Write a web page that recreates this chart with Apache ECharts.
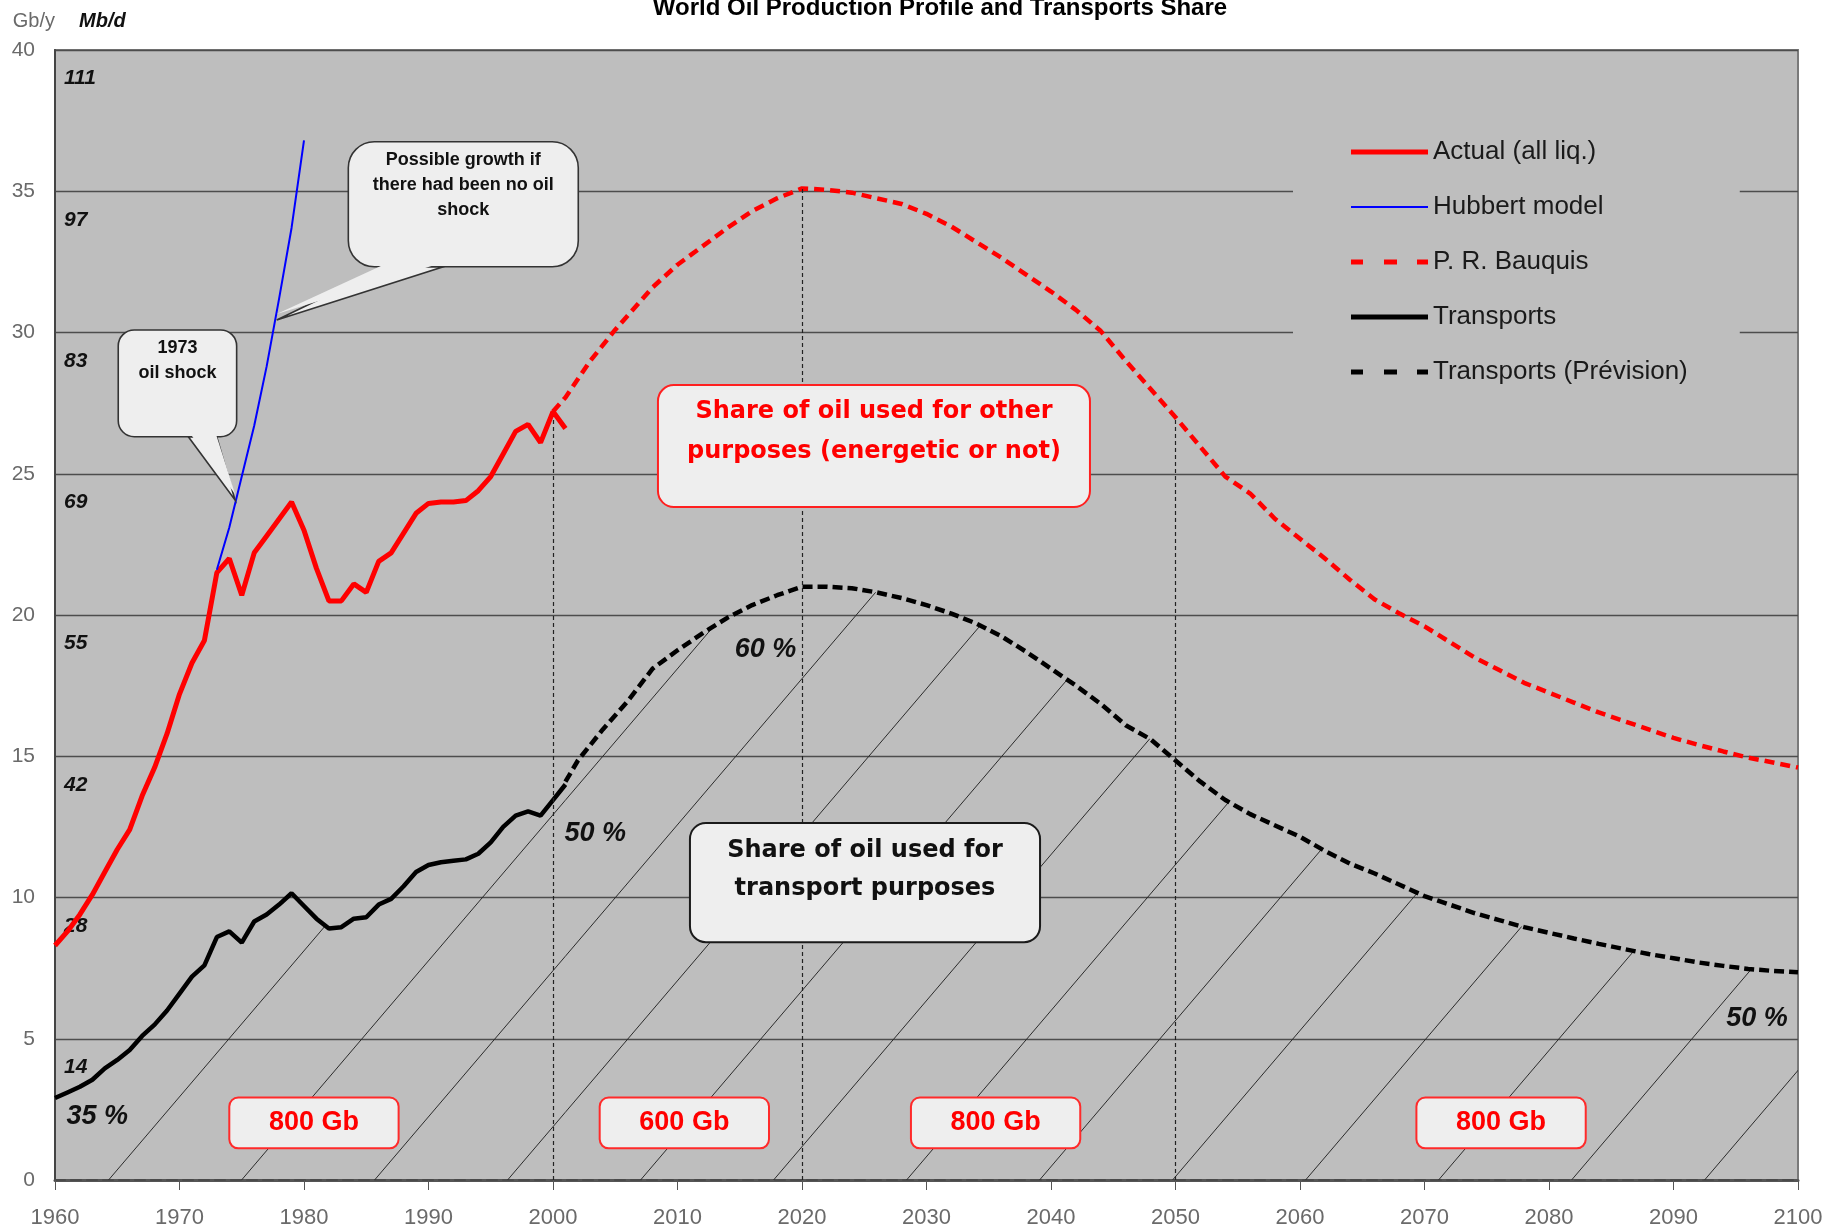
<!DOCTYPE html>
<html>
<head>
<meta charset="utf-8">
<script src="https://cdn.jsdelivr.net/npm/echarts@6/dist/echarts.min.js"></script>
<style>
html,body{margin:0;padding:0;background:#ffffff;}
#chart{width:1827px;height:1230px;}
</style>
</head>
<body>
<div id="chart"></div>
<script>
// ---------------- DATA ----------------
const actualYears = [1960,1961,1962,1963,1964,1965,1966,1967,1968,1969,
  1970,1971,1972,1973,1974,1975,1976,1977,1978,1979,
  1980,1981,1982,1983,1984,1985,1986,1987,1988,1989,
  1990,1991,1992,1993,1994,1995,1996,1997,1998,1999,2000,2001];
const actualValues = [8.3,8.8,9.4,10.1,10.9,11.7,12.4,13.6,14.6,15.8,
  17.2,18.3,19.1,21.5,22.0,20.7,22.2,22.8,23.4,24.0,
  23.0,21.65,20.5,20.5,21.1,20.8,21.9,22.2,22.9,23.6,
  23.95,24.0,24.0,24.05,24.4,24.9,25.7,26.5,26.75,26.1,27.2,26.6];

const hubbertYears = [1973,1974,1975,1976,1977,1978,1979,1980];
const hubbertValues = [21.6,23.1,24.9,26.7,28.8,31.2,33.7,36.8];

const bauquisYears = [2000,2001,2003,2005,2008,2010,2012,2014,2016,2018,
  2020,2022,2024,2026,2028,2030,2032,2034,2036,2038,
  2040,2042,2044,2046,2048,2050,2052,2054,2056,2058,
  2060,2062,2064,2066,2068,2070,2072,2074,2076,2078,
  2080,2082,2084,2086,2088,2090,2092,2094,2096,2098,2100];
const bauquisValues = [27.2,27.7,29.0,30.1,31.6,32.4,33.05,33.7,34.3,34.75,
  35.1,35.05,34.95,34.75,34.55,34.2,33.75,33.2,32.65,32.05,
  31.45,30.8,30.05,29.0,28.0,27.0,25.95,24.9,24.3,23.4,
  22.7,22.0,21.25,20.55,20.05,19.6,19.05,18.5,18.05,17.6,
  17.25,16.9,16.55,16.25,15.95,15.65,15.4,15.17,14.95,14.78,14.6];

const transportYears = actualYears;
const transportValues = [2.9,3.1,3.3,3.55,3.95,4.25,4.6,5.1,5.5,6.0,
  6.6,7.2,7.6,8.6,8.8,8.4,9.15,9.4,9.75,10.15,
  9.7,9.25,8.9,8.95,9.25,9.3,9.75,9.95,10.4,10.9,
  11.15,11.25,11.3,11.35,11.55,11.95,12.5,12.9,13.05,12.9,13.45,14.0];

const forecastYears = [2001,2002,2004,2006,2008,2010,2012,2014,2016,2018,
  2020,2022,2024,2026,2028,2030,2032,2034,2036,2038,
  2040,2042,2044,2046,2048,2050,2052,2054,2056,2058,
  2060,2062,2064,2066,2068,2070,2072,2074,2076,2078,
  2080,2082,2084,2086,2088,2090,2092,2094,2096,2098,2100];
const forecastValues = [14.1,14.85,15.95,16.95,18.1,18.75,19.35,19.9,20.35,20.7,
  21.0,21.0,20.95,20.8,20.6,20.35,20.05,19.7,19.25,18.7,
  18.1,17.5,16.85,16.1,15.6,14.85,14.1,13.45,12.95,12.55,
  12.15,11.65,11.2,10.85,10.45,10.05,9.75,9.45,9.2,8.95,
  8.75,8.55,8.36,8.18,8.0,7.85,7.7,7.58,7.47,7.4,7.35];

const seriesNames = ['Actual (all liq.)','Hubbert model','P. R. Bauquis','Transports','Transports (Prévision)'];
const mbdLabels = ['', '14', '28', '42', '55', '69', '83', '97', '111'];   // for 0,5,...,40 Gb/y
const dropYears = [2000, 2020, 2050];

const shareTexts = ['35 %', '50 %', '60 %', '50 %'];
const shareAt = [[1963.4, 2.24], [2003.4, 12.27], [2017.07, 18.77], [2096.7, 5.73]];
const volumeTexts = ['800 Gb', '600 Gb', '800 Gb', '800 Gb'];
const volumeCenters = [1980.8, 2010.55, 2035.55, 2076.15];

// ---------------- HELPERS ----------------
const zip = (xs, ys) => xs.map((x, i) => [x, ys[i]]);
function valueAt(year) {
  const i = bauquisYears.indexOf(year);
  return bauquisValues[i];
}
function makeHatch() {
  const W = 133, H = 156, c = 50.6;
  const cv = document.createElement('canvas');
  cv.width = W; cv.height = H;
  const g = cv.getContext('2d');
  g.strokeStyle = '#2b2b2b';
  g.lineWidth = 1;
  [c - W, c, c + W].forEach(cc => {
    g.beginPath(); g.moveTo(cc, 0); g.lineTo(cc - W, H); g.stroke();
  });
  return cv;
}
const hatch = {image: makeHatch(), repeat: 'repeat'};

// legend icons (solid / dashed strokes)
const ICON_SOLID_THICK = 'path://M0,0h77v5h-77z';
const ICON_SOLID_THIN = 'path://M0,0h77v2h-77z';
const ICON_DASHED = 'path://M0,0h12v5h-12zM33,0h13v5h-13zM66,0h11v5h-11z';
const legendIcons = [ICON_SOLID_THICK, ICON_SOLID_THIN, ICON_DASHED, ICON_SOLID_THICK, ICON_DASHED];

const FILL = '#eeeeee';
const notes = [
  {box: [2008.43, 28.14, 2043.13, 23.82], text: 'Share of oil used for other\npurposes (energetic or not)',
   color: '#ff0000', border: '#ff2020', bw: 2, r: 16, pad: 7, lh: 40,
   font: {fontSize: 24, fontWeight: 'bold', fontFamily: 'DejaVu Sans'}},
  {box: [2011.0, 12.64, 2039.12, 8.42], text: 'Share of oil used for\ntransport purposes',
   color: '#111111', border: '#1a1a1a', bw: 2, r: 16, pad: 9, lh: 38,
   font: {fontSize: 24, fontWeight: 'bold', fontFamily: 'DejaVu Sans'}},
  {box: [1983.56, 36.75, 2002.03, 32.33], text: 'Possible growth if\nthere had been no oil\nshock',
   color: '#111111', border: '#333333', bw: 1.6, r: 26, pad: 6, lh: 25,
   tail: [[1986.64, 32.33], [1991.19, 32.33], [1977.81, 30.44]],
   font: {fontSize: 18, fontWeight: 'bold', fontFamily: 'Liberation Sans'}},
  {box: [1965.08, 30.09, 1974.59, 26.31], text: '1973\noil shock',
   color: '#111111', border: '#333333', bw: 1.6, r: 16, pad: 6, lh: 25,
   tail: [[1970.71, 26.31], [1972.99, 26.31], [1974.46, 24.07]],
   font: {fontSize: 18, fontWeight: 'bold', fontFamily: 'Liberation Sans'}}
];
volumeTexts.forEach((t, i) => {
  notes.push({box: [volumeCenters[i] - 6.8, 2.92, volumeCenters[i] + 6.8, 1.12], text: t,
    color: '#ff0000', border: '#ff2a2a', bw: 2, r: 9, pad: 'center', lh: 30,
    font: {fontSize: 27, fontWeight: 'bold', fontFamily: 'Liberation Sans'}});
});

function renderNote(params, api) {
  const n = notes[params.dataIndex];
  const p1 = api.coord([n.box[0], n.box[1]]);
  const p2 = api.coord([n.box[2], n.box[3]]);
  const x = p1[0], y = p1[1], w = p2[0] - p1[0], h = p2[1] - p1[1];
  const children = [];
  let tailPts = null;
  if (n.tail) {
    tailPts = n.tail.map(c => api.coord(c));
    children.push({type: 'polygon', shape: {points: tailPts},
      style: {fill: FILL, stroke: n.border, lineWidth: n.bw}});
  }
  children.push({type: 'rect', shape: {x: x, y: y, width: w, height: h, r: n.r},
    style: {fill: FILL, stroke: n.border, lineWidth: n.bw}});
  if (tailPts) {
    const pts = tailPts.map(p => p.slice());
    pts[0][1] -= 4; pts[1][1] -= 4;
    pts[0][0] += 1.2; pts[1][0] -= 1.2;
    pts[2] = [pts[2][0], pts[2][1] - 6];
    children.push({type: 'polygon', shape: {points: pts}, style: {fill: FILL}});
  }
  const centered = n.pad === 'center';
  children.push({type: 'text', x: x + w / 2, y: centered ? y + h / 2 : y + n.pad,
    style: Object.assign({text: n.text, fill: n.color, align: 'center',
      verticalAlign: centered ? 'middle' : 'top', lineHeight: n.lh}, n.font)});
  return {type: 'group', children: children};
}
function renderShare(params, api) {
  const p = api.coord(shareAt[params.dataIndex]);
  return {type: 'text', x: p[0], y: p[1], style: {text: shareTexts[params.dataIndex], fill: '#111',
    align: 'center', verticalAlign: 'middle', fontSize: 27, fontWeight: 'bold', fontStyle: 'italic',
    fontFamily: 'Liberation Sans'}};
}

// ---------------- CHART ----------------
const chart = echarts.init(document.getElementById('chart'), null, {renderer: 'canvas'});
const FONT = 'Liberation Sans';
const option = {
  animation: false,
  backgroundColor: '#ffffff',
  title: {
    text: 'World Oil Production Profile and Transports Share',
    left: 935, top: -9, textAlign: 'center',
    textStyle: {fontSize: 24, fontWeight: 'bold', color: '#000', fontFamily: FONT}
  },
  legend: {
    data: seriesNames.map((n, i) => ({name: n, icon: legendIcons[i]})),
    orient: 'vertical',
    left: 1293, top: 103,
    padding: [36, 52, 40, 58],
    itemWidth: 77, itemHeight: 14, itemGap: 29,
    symbolKeepAspect: true,
    backgroundColor: '#bebebe',
    textStyle: {fontSize: 26, color: '#1a1a1a', fontFamily: FONT, lineHeight: 26, padding: [0, 0, 0, 0]}
  },
  grid: {
    left: 55, right: 29, top: 50, bottom: 50,
    show: true, backgroundColor: '#bebebe', borderColor: '#7a7a7a', borderWidth: 2
  },
  xAxis: [{
    type: 'value', min: 1960, max: 2100, interval: 10,
    axisLine: {lineStyle: {color: '#555', width: 3}},
    axisTick: {show: true, length: 10, lineStyle: {color: '#555', width: 1}},
    axisLabel: {color: '#6a6a6a', fontSize: 22, margin: 27, fontFamily: FONT, formatter: v => String(v)},
    splitLine: {show: false}
  }, {
    type: 'value', min: 1960, max: 2100, position: 'top',
    axisLine: {show: true, lineStyle: {color: '#4a4a4a', width: 2, type: [10, 6]}},
    axisTick: {show: false}, axisLabel: {show: false}, splitLine: {show: false}
  }],
  yAxis: [{
    type: 'value', min: 0, max: 40, interval: 5,
    name: 'Gb/y', nameLocation: 'end', nameGap: 29,
    nameTextStyle: {color: '#6a6a6a', fontSize: 20, fontFamily: FONT, align: 'right', verticalAlign: 'middle'},
    axisLine: {show: true, lineStyle: {color: '#444', width: 2}},
    axisTick: {show: false},
    axisLabel: {color: '#6a6a6a', fontSize: 21, margin: 20, fontFamily: FONT},
    splitLine: {show: true, lineStyle: {color: '#4d4d4d', width: 1.3}}
  }, {
    type: 'value', min: 0, max: 40, interval: 5, position: 'left',
    name: 'Mb/d', nameLocation: 'end', nameGap: 29,
    nameTextStyle: {color: '#111', fontSize: 20, fontWeight: 'bold', fontStyle: 'italic', fontFamily: FONT,
      align: 'left', verticalAlign: 'middle', padding: [0, 0, 0, 24]},
    axisLine: {show: false}, axisTick: {show: false}, splitLine: {show: false},
    axisLabel: {inside: true, margin: 9, verticalAlign: 'top', padding: [18, 0, 0, 0],
      color: '#111', fontSize: 21, fontWeight: 'bold', fontStyle: 'italic', fontFamily: FONT,
      formatter: v => mbdLabels[Math.round(v / 5)]}
  }],
  series: [
    {
      name: 'Transports', type: 'line', data: zip(transportYears, transportValues),
      symbol: 'none', z: 3,
      lineStyle: {color: '#000', width: 4.5},
      itemStyle: {color: '#000'},
      areaStyle: {color: hatch, opacity: 1, origin: 'start'}
    },
    {
      name: 'Transports (Prévision)', type: 'line', data: zip(forecastYears, forecastValues),
      symbol: 'none', z: 3,
      lineStyle: {color: '#000', width: 4.5, type: [10, 5]},
      itemStyle: {color: '#000'},
      areaStyle: {color: hatch, opacity: 1, origin: 'start'}
    },
    {
      name: 'P. R. Bauquis', type: 'line', data: zip(bauquisYears, bauquisValues),
      symbol: 'none', z: 4,
      lineStyle: {color: '#ff0000', width: 4.5, type: [10, 6]},
      itemStyle: {color: '#ff0000'},
      markLine: {
        silent: true, symbol: 'none', label: {show: false},
        lineStyle: {color: '#222', width: 1.2, type: [4, 3]},
        data: dropYears.map(y => [{coord: [y, 0]}, {coord: [y, valueAt(y)]}])
      }
    },
    {
      name: 'Actual (all liq.)', type: 'line', data: zip(actualYears, actualValues),
      symbol: 'none', z: 5,
      lineStyle: {color: '#ff0000', width: 5},
      itemStyle: {color: '#ff0000'}
    },
    {
      name: 'Hubbert model', type: 'line', data: zip(hubbertYears, hubbertValues),
      symbol: 'none', z: 5,
      lineStyle: {color: '#0000ff', width: 2},
      itemStyle: {color: '#0000ff'}
    },
    {
      name: 'notes', type: 'custom', renderItem: renderNote, silent: true, z: 10,
      data: notes.map(n => [n.box[0], n.box[1]])
    },
    {
      name: 'shares', type: 'custom', renderItem: renderShare, silent: true, z: 11,
      data: shareAt
    }
  ]
};
chart.setOption(option);
</script>
</body>
</html>
